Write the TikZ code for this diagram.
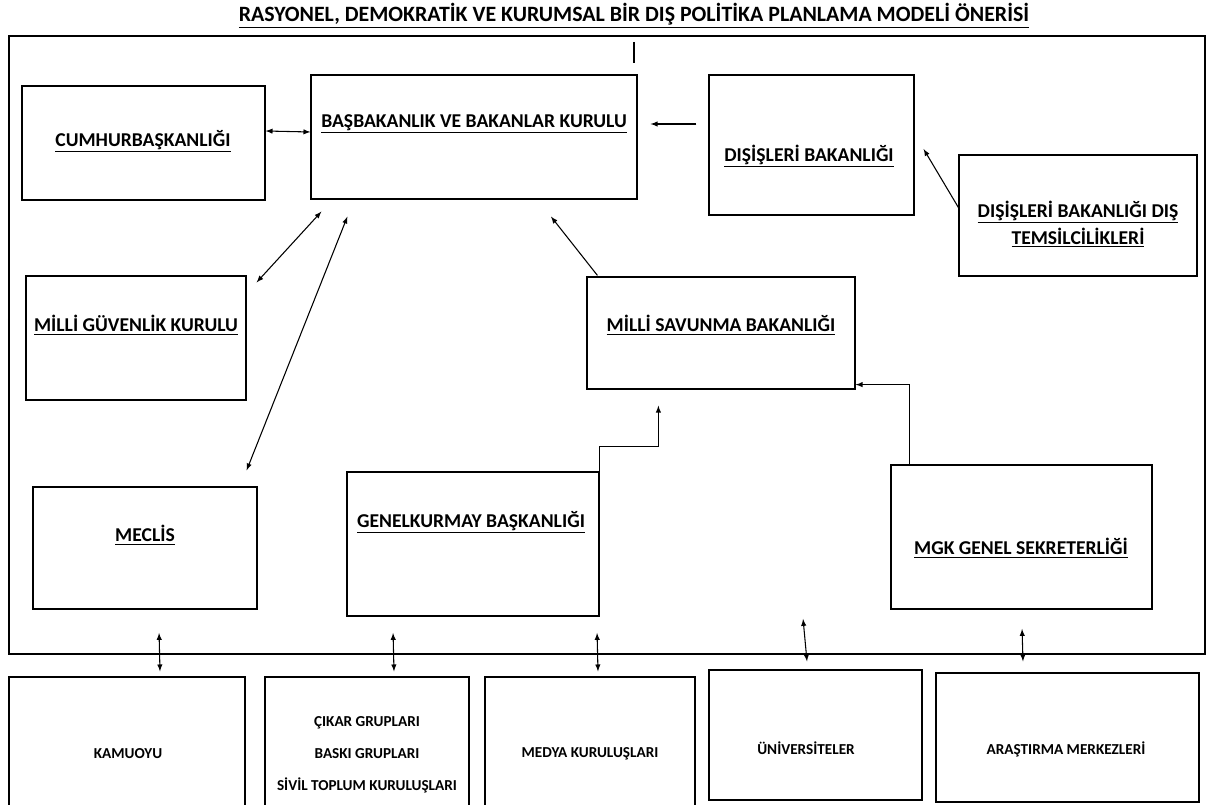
\documentclass[tikz,border=0pt]{standalone}
\usepackage{fontspec}
\setmainfont{Carlito}
\usetikzlibrary{fit,calc}

\tikzset{
  box/.style={draw, line width=0.9pt, inner sep=0pt},
  lbl/.style={inner sep=0.75pt, font=\bfseries\fontsize{14.7}{20}\selectfont},
  smalllbl/.style={inner sep=0.75pt, align=center, font=\bfseries\fontsize{11.4}{24}\selectfont},
  link/.style={line width=0.8pt, -latex},
  dlink/.style={line width=0.8pt, latex-latex}
}

\begin{document}
\begin{tikzpicture}[x=0.75pt,y=0.75pt,yscale=-1,xscale=1]
\useasboundingbox (0,0) rectangle (1208,805);

% Title
\draw (634,16) node [lbl, font=\bfseries\fontsize{16.4}{20}\selectfont] (title) {\underline{RASYONEL, DEMOKRATİK VE KURUMSAL BİR DIŞ POLİTİKA PLANLAMA MODELİ ÖNERİSİ}};

%Shape: outer frame
\node [box, line width=1.4pt, fit={(9,36) (1205,654)}] (frame) {};
\draw [line width=1.6pt] (634,42) -- (634,63);

%Shape: Rectangle boxes inside the frame
\node [box, fit={(22,86) (265,200)}] (cb) {};
\node [box, fit={(311,75) (637,199)}] (bb) {};
\node [box, fit={(709,75) (914,215)}] (di) {};
\node [box, fit={(959,155) (1197,276)}] (dt) {};
\node [box, fit={(26,276) (246,400)}] (mgk) {};
\node [box, fit={(587,277) (855,389)}] (ms) {};
\node [box, fit={(33,487) (257,609)}] (me) {};
\node [box, fit={(347,472) (599,616)}] (gk) {};
\node [box, fit={(891,465) (1152,609)}] (gs) {};

%Shape: Rectangle boxes below the frame
\node [box, fit={(9,677) (245,815)}] (ka) {};
\node [box, fit={(265,677) (469,815)}] (cg) {};
\node [box, fit={(485,677) (695,815)}] (md) {};
\node [box, fit={(709,670) (922,800)}] (un) {};
\node [box, fit={(936,673) (1199,802)}] (ar) {};

% Text Node
\draw (143,141) node [lbl] (cbt) {\underline{CUMHURBAŞKANLIĞI}};
% Text Node
\draw (474,124) node [lbl] (bbt) {\underline{BAŞBAKANLIK VE BAKANLAR KURULU}};
% Text Node
\draw (809,156) node [lbl] (dit) {\underline{DIŞİŞLERİ BAKANLIĞI}};
% Text Node
\draw (1078,224) node [lbl, align=center] (dtt) {\underline{DIŞİŞLERİ BAKANLIĞI DIŞ}\\\underline{TEMSİLCİLİKLERİ}};
% Text Node
\draw (136,325) node [lbl] (mgkt) {\underline{MİLLİ GÜVENLİK KURULU}};
% Text Node
\draw (721,325) node [lbl] (mst) {\underline{MİLLİ SAVUNMA BAKANLIĞI}};
% Text Node
\draw (145,535) node [lbl] (met) {\underline{MECLİS}};
% Text Node
\draw (471,522) node [lbl] (gkt) {\underline{GENELKURMAY BAŞKANLIĞI}};
% Text Node
\draw (1021,548) node [lbl] (gst) {\underline{MGK GENEL SEKRETERLİĞİ}};

% Text Node
\draw (128,754) node [smalllbl] (kat) {KAMUOYU};
% Text Node
\draw (367,755) node [smalllbl] (cgt) {ÇIKAR GRUPLARI\\BASKI GRUPLARI\\SİVİL TOPLUM KURULUŞLARI};
% Text Node
\draw (590,754) node [smalllbl] (mdt) {MEDYA KURULUŞLARI};
% Text Node
\draw (806,748) node [smalllbl] (unt) {ÜNİVERSİTELER};
% Text Node
\draw (1066,749) node [smalllbl] (art) {ARAŞTIRMA MERKEZLERİ};

% Connectors inside the frame
\draw [dlink] ($(cb.east)+(0,-12)$) -- ($(bb.west)+(0,-5)$);
\draw [link] ($(di.west)+(-12,-21)$) -- ($(bb.east)+(13,-13)$);
\draw [link] ($(dt.west)+(0,-8)$) -- ($(di.east)+(9,4)$);
\draw [dlink] ($(mgk.north east)+(10,7)$) -- ($(bb.south west)+(11,12)$);
\draw [dlink] ($(me.north east)+(-11,-16)$) -- ($(bb.south west)+(37,17)$);
\draw [link] ($(ms.north west)+(11,-1)$) -- ($(bb.south)+(77,17)$);
\draw [link] (gk.north east) -- ++(0,-25) -| ($(ms.south west)+(72,16)$);
\draw [link] ($(gs.north west)+(19,0)$) |- ($(ms.south east)+(0,-5)$);

% Connectors to the outside
\draw [dlink] ($(frame.south west)+(151,-22)$) -- ($(ka.north)+(33,-5)$);
\draw [dlink] ($(frame.south west)+(385,-22)$) -- ($(cg.north)+(27,-5)$);
\draw [dlink] ($(frame.south west)+(589,-22)$) -- ($(md.north)+(8,-5)$);
\draw [dlink] ($(frame.south west)+(795,-36)$) -- ($(un.north)+(-8.5,-8)$);
\draw [dlink] ($(frame.south west)+(1014,-26)$) -- ($(ar.north)+(-44.5,-11)$);
\end{tikzpicture}
\end{document}
